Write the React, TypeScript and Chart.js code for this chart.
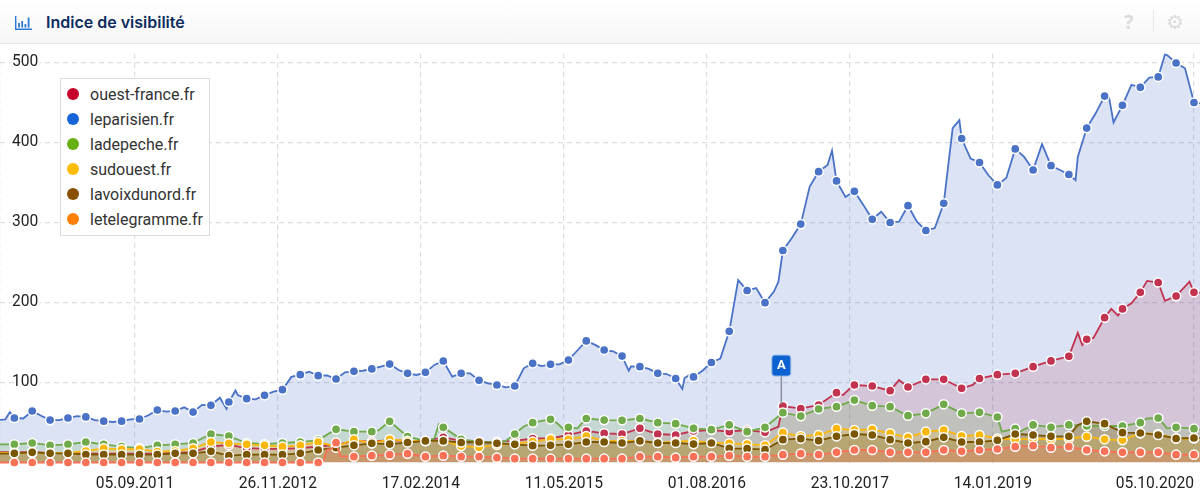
import React, { useEffect, useRef } from "react";
import { Chart, registerables } from "chart.js";

Chart.register(...registerables);

// Weeks counted from 05.09.2011
const tickWeeks = [0, 64, 128, 192, 256, 320, 384, 474];
const tickLabels = ["05.09.2011", "26.11.2012", "17.02.2014", "11.05.2015", "01.08.2016", "23.10.2017", "14.01.2019", "05.10.2020"];
const yTicks = [100, 200, 300, 400, 500];
const weekMin = -60.42;
const weekMax = 476.7;
const yMax = 511;

const firstMarkerWeek = -54;
const markerStep = 8;
const blueFirstWeek = -62;
const blueStep = 4;

const leparisien = [
  53, 54, 55.6, 55, 64.4, 58.5, 53, 53, 55.6, 58, 57, 53, 51.6, 50.6, 51.6, 54, 54.4, 59, 65.6, 63.5,
  64.4, 69, 63, 72, 71.5, 81, 75.6, 84.4, 79.8, 79, 84, 88.5, 91, 107, 109.8, 113.5, 108.5, 109, 104.4, 112.7,
  114, 114.7, 117, 119.8, 123, 115.6, 111.5, 109.4, 112.7, 122, 126.9, 107.3, 111.5, 111.5, 102.7, 99, 96.9, 94, 95.6, 117.7,
  124, 120.6, 122.7, 122.7, 128, 140, 152, 147, 140.6, 139, 133, 120, 119.8, 117, 111.5, 110.6, 105, 105.5, 107, 114.7,
  125, 130, 164, 228, 215, 218, 199.8, 213.6, 265, 280.5, 298, 345, 363.5, 372, 352, 332, 339, 322, 304, 313.5,
  300, 301, 321, 301, 290, 293, 324, 418, 405, 380, 375, 359, 347, 355.6, 392, 382, 365.6, 398, 371, 365.6,
  360, 382, 418, 436.5, 458, 425, 446.5, 472, 469, 481, 482, 509.4, 499.4, 492.7, 450, 449,
];
const leparisienExtraWeeks = [-56, 41, 45, 221, 245, 248, 288, 312, 369, 421, 436, 461];
const leparisienExtraValues = [63, 67, 90, 114.7, 91.9, 109, 226, 390, 428, 353, 456, 510];

const ouestFrance = [
  13, 13, 12, 12, 11, 11, 11, 11, 11, 12, 13, 20, 22, 18, 17, 17, 18, 20, 22, 27, 26, 28,
  27, 27, 31.5, 27, 25, 26, 27, 30, 30, 34.4, 39.4, 36.5, 35.6, 42.7, 35.6, 34.4, 39.4, 40.6, 38.5, 40.6, 37.7, 70.6, 67.3,
  71.9, 87.3, 96.9, 95.6, 89.8, 94.4, 104, 104, 92.7, 105, 109.8, 111.5, 119.8, 127, 132.7, 154, 181, 192, 212.7, 225, 208, 212.7,
];
const ouestFranceExtraWeeks = [-62, 288, 317, 320, 342, 375, 422, 424, 429, 437, 440, 446, 453, 461, 472, 478];
const ouestFranceExtraValues = [13, 45, 84.4, 92.7, 103, 97, 162, 147, 155.6, 192, 183.5, 199, 227, 202, 226, 212];

const ladepeche = [
  22.7, 24.4, 21.5, 22.7, 25.6, 22.7, 19.8, 18, 21.5, 22.7, 24.4, 35.6, 33, 24.4, 23, 24.4, 25.6, 28, 41.5, 38.5, 38.5, 51.5,
  32.3, 27, 44, 29, 26, 25, 35.6, 49.8, 54, 44, 55, 53, 52.7, 55, 49.8, 48.5, 42.7, 41, 47, 38.5, 44, 62.3, 58,
  66.9, 69.8, 78, 71, 69.8, 58.5, 61.5, 72.7, 61.5, 62.7, 56.9, 42.3, 47, 44, 47, 45.6, 45.6, 45.6, 49.8, 55.6, 44, 42.3,
];
const ladepecheExtraWeeks = [-62, 109, 134, 136, 166, 174, 189, 192, 198, 388, 396, 453, 462, 478];
const ladepecheExtraValues = [22.7, 40, 30, 48, 27, 45, 49, 41, 42.7, 38.5, 38.5, 55, 42.7, 41];

const sudouest = [
  12, 12, 12, 12, 14.4, 17.7, 16.5, 16.9, 13.5, 14.4, 17.7, 25.6, 24, 22.7, 21.5, 19.8, 21.5, 25.6, 20, 28.9, 24, 28.9,
  27, 27, 27, 20.6, 19, 21.9, 24, 26, 29.4, 29, 33, 27, 27, 27, 24.8, 26, 27, 24.8, 24, 23, 21.5, 37.3, 33,
  34.4, 42.3, 40.6, 41.5, 36.5, 31.5, 38.5, 40.6, 33, 34.4, 30, 29, 30, 29, 30, 32.3, 29, 28, 36.5, 35.6, 30, 30,
];
const sudouestExtraWeeks = [-62, 478];
const sudouestExtraValues = [12, 30];

const lavoixdunord = [
  11.5, 12.7, 11.5, 11.5, 10, 10, 9.8, 9.8, 10, 11.5, 11.5, 14, 8.5, 9.8, 9.8, 9.8, 11.5, 15.6, 18.5, 21.5, 24, 23,
  25, 27, 27, 25, 25.6, 24, 22.7, 21, 21.5, 22.7, 25.6, 25.6, 24.4, 27, 24.4, 24.4, 23, 24.4, 17.7, 17.3, 16, 28.5, 29.8,
  27.3, 32.7, 35.6, 34.4, 28.5, 24.4, 26, 31.5, 25.6, 25.6, 27.7, 35.6, 34.4, 32.7, 32.7, 51.5, 48.5, 37.3, 36.9, 34.4, 30, 30.6,
];
const lavoixdunordExtraWeeks = [-62, 422, 478];
const lavoixdunordExtraValues = [11, 46.9, 30.6];

const letelegramme = [
  0, 0, 0, 0, 0, 0, 0, 0, 0, 0, 0, 0, 0, 0, 0, 0, 0, 0, 24.8, 7.3, 8.5, 9.8,
  11, 7.3, 8.5, 7.3, 7.3, 6, 4.8, 4.8, 4.8, 4.8, 4.8, 4.8, 4.8, 7.3, 7.3, 6, 7.3, 7.3, 8.5, 7.3, 7.3, 9.8, 11,
  9.8, 12.7, 15.6, 15.6, 12.7, 12.7, 12.7, 15.6, 14, 15.6, 16.9, 19.8, 21, 18.5, 19.8, 15.6, 14, 12.7, 12.7, 12.7, 9.8, 9.8,
];
const letelegrammeExtraWeeks = [-62, 84, 86, 88, 92, 478];
const letelegrammeExtraValues = [0, 0, 16, 17, 8, 9.8];

const annotationWeek = 289.3;
const annotationValue = 73;
const annotationLabel = "A";

const legendNames = ["ouest-france.fr", "leparisien.fr", "ladepeche.fr", "sudouest.fr", "lavoixdunord.fr", "letelegramme.fr"];
const legendColors = ["#c8002d", "#1565d8", "#66b016", "#ffbc05", "#8a4f00", "#ff8000"];
const lineColors = ["#c2334f", "#4a72c6", "#70aa4a", "#fcb80a", "#7a5600", "#fb7158"];
const fillColors = [
  "rgba(178,40,70,0.16)",
  "rgba(74,114,198,0.2)",
  "rgba(112,170,74,0.2)",
  "rgba(252,184,10,0.2)",
  "rgba(122,86,0,0.25)",
  "rgba(251,113,88,0.25)",
];
// Bottom-to-top paint order of the series (indexes into legendNames)
const paintOrder = [1, 0, 2, 3, 4, 5];

type P = { x: number; y: number };

function merge(weeks: number[], values: number[], exW: number[], exV: number[]): P[] {
  const pts: P[] = weeks.map((w, i) => ({ x: w, y: values[i] }));
  exW.forEach((w, i) => pts.push({ x: w, y: exV[i] }));
  return pts.sort((a, b) => a.x - b.x);
}
const markerWeeks = ouestFrance.map((_, i) => firstMarkerWeek + i * markerStep);
const blueWeeks = leparisien.map((_, i) => blueFirstWeek + i * blueStep);

const seriesPoints: P[][] = [
  merge(markerWeeks, ouestFrance, ouestFranceExtraWeeks, ouestFranceExtraValues),
  merge(blueWeeks, leparisien, leparisienExtraWeeks, leparisienExtraValues),
  merge(markerWeeks, ladepeche, ladepecheExtraWeeks, ladepecheExtraValues),
  merge(markerWeeks, sudouest, sudouestExtraWeeks, sudouestExtraValues),
  merge(markerWeeks, lavoixdunord, lavoixdunordExtraWeeks, lavoixdunordExtraValues),
  merge(markerWeeks, letelegramme, letelegrammeExtraWeeks, letelegrammeExtraValues),
];
const markerSet = new Set(markerWeeks);

const flagPlugin = {
  id: "flag",
  afterDatasetsDraw(chart: any) {
    const { ctx, scales } = chart;
    const x = scales.x.getPixelForValue(annotationWeek);
    const yBottom = scales.y.getPixelForValue(annotationValue);
    const boxW = 19, boxH = 21, boxTop = yBottom - 49;
    ctx.save();
    ctx.strokeStyle = "#8a8f98";
    ctx.lineWidth = 1.5;
    ctx.beginPath();
    ctx.moveTo(x, boxTop + boxH);
    ctx.lineTo(x, yBottom);
    ctx.stroke();
    ctx.fillStyle = "#0d62d1";
    ctx.strokeStyle = "#9dbdea";
    ctx.lineWidth = 1;
    ctx.beginPath();
    ctx.roundRect(x - boxW / 2, boxTop, boxW, boxH, 3);
    ctx.fill();
    ctx.stroke();
    ctx.fillStyle = "#ffffff";
    ctx.font = "bold 13px Roboto";
    ctx.textAlign = "center";
    ctx.textBaseline = "middle";
    ctx.fillText(annotationLabel, x, boxTop + boxH / 2 + 0.5);
    ctx.restore();
  },
};

export default function App() {
  const ref = useRef<HTMLCanvasElement | null>(null);
  useEffect(() => {
    document.body.style.margin = "0";
    // Areas are painted first, all lines and markers above every area.
    const areas = legendNames.map((name, i) => ({
      label: name + " area",
      data: seriesPoints[i],
      order: 100 - paintOrder.indexOf(i),
      borderWidth: 0,
      borderColor: "transparent",
      backgroundColor: fillColors[i],
      fill: "origin",
      tension: 0,
      clip: false,
      pointRadius: 0,
    }));
    const lines = legendNames.map((name, i) => ({
      label: name,
      data: seriesPoints[i],
      order: 50 - paintOrder.indexOf(i),
      borderColor: lineColors[i],
      borderWidth: 1.8,
      fill: false,
      tension: 0,
      clip: false,
      pointBackgroundColor: lineColors[i],
      pointBorderColor: "#ffffff",
      pointBorderWidth: 1.5,
      pointRadius: (c: any) => (markerSet.has(c.raw?.x) ? 4.6 : 0),
      pointHoverRadius: 4.6,
    }));
    const chart = new Chart(ref.current as HTMLCanvasElement, {
      type: "line",
      plugins: [flagPlugin],
      data: { datasets: [...areas, ...lines] } as any,
      options: {
        responsive: false,
        animation: false,
        layout: { padding: { top: 53.7, left: 0, right: 0, bottom: 0 } },
        plugins: { legend: { display: false }, tooltip: { enabled: false } },
        scales: {
          x: {
            type: "linear",
            min: weekMin,
            max: weekMax,
            afterBuildTicks: (s: any) => {
              s.ticks = [{ value: weekMin }, ...tickWeeks.map((v) => ({ value: v }))];
            },
            afterFit: (s: any) => {
              s.height = 37.5;
              s.paddingLeft = 0;
              s.paddingRight = 0;
            },
            grid: { color: "#dcdde1", lineWidth: 1.2, drawTicks: false },
            border: { display: false, dash: [5, 4] },
            ticks: {
              autoSkip: false,
              maxRotation: 0,
              align: "inner",
              padding: 12.5,
              color: "#222222",
              font: { family: "Roboto", size: 15.6 },
              callback: (v: any) => {
                const i = tickWeeks.indexOf(v);
                return i >= 0 ? tickLabels[i] : "";
              },
            },
          },
          y: {
            type: "linear",
            min: 0,
            max: yMax,
            afterBuildTicks: (s: any) => {
              s.ticks = yTicks.map((v) => ({ value: v }));
            },
            afterFit: (s: any) => {
              s.width = 0;
              s.paddingTop = 0;
              s.paddingBottom = 0;
            },
            grid: { color: "#dcdde1", lineWidth: 1.2, drawTicks: false },
            border: { display: false, dash: [5, 4] },
            ticks: {
              mirror: true,
              padding: 12,
              z: 1,
              color: "#222222",
              textStrokeColor: "#ffffff",
              textStrokeWidth: 4,
              font: { family: "Roboto", size: 15.6 },
            },
          },
        },
      } as any,
    });
    return () => chart.destroy();
  }, []);

  return (
    <div style={{ position: "relative", width: 1200, height: 500, overflow: "hidden", background: "#fff" }}>
      <canvas ref={ref} width={1200} height={500} style={{ position: "absolute", left: 0, top: 0, width: 1200, height: 500 }} />
      <div
        style={{
          position: "absolute", left: 0, top: 0, width: 1200, height: 43,
          background: "linear-gradient(#ffffff, #f6f6f6)", borderBottom: "1px solid #e6e6e6",
        }}
      >
        <svg width="18" height="16" viewBox="0 0 18 16" style={{ position: "absolute", left: 14.5, top: 14.5 }}>
          <path d="M0.7 1V14.3H17" fill="none" stroke="#2f7ad6" strokeWidth="1.4" />
          <path d="M4 8V12.5M7.2 6V12.5M10.4 9V12.5M13.6 2.5V12.5" fill="none" stroke="#2f7ad6" strokeWidth="1.8" />
        </svg>
        <div
          style={{
            position: "absolute", left: 46, top: 0,
            font: "600 16px/44px Inter", color: "#0c2c5e", whiteSpace: "nowrap",
          }}
        >
          Indice de visibilité
        </div>
        <div style={{ position: "absolute", left: 1124, top: 0, font: "bold 20px/44px 'Open Sans'", color: "#dcdcdc" }}>?</div>
        <div style={{ position: "absolute", left: 1153, top: 10, width: 1, height: 22, background: "#e8e8e8" }} />
        <div style={{ position: "absolute", left: 1166, top: 0, font: "20px/44px 'DejaVu Sans'", color: "#dcdcdc" }}>⚙</div>
      </div>
      <div
        style={{
          position: "absolute", left: 60, top: 78, width: 148, height: 156,
          background: "#fff", border: "1px solid #dcdcdc",
        }}
      >
        {legendNames.map((name, i) => (
          <div key={name} style={{ position: "absolute", left: 0, top: 3 + i * 25, height: 25, width: 148 }}>
            <span
              style={{
                position: "absolute", left: 6, top: 6, width: 12, height: 12,
                borderRadius: "50%", background: legendColors[i],
              }}
            />
            <span style={{ position: "absolute", left: 29, top: 0, font: "16px/25px Roboto", color: "#333", whiteSpace: "nowrap" }}>
              {name}
            </span>
          </div>
        ))}
      </div>
    </div>
  );
}
